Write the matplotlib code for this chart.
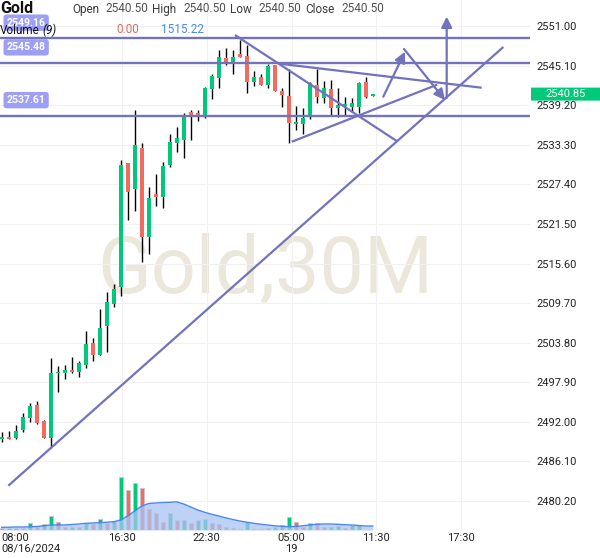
import matplotlib
matplotlib.use('Agg')
import matplotlib.pyplot as plt
import matplotlib.transforms as mtransforms
from matplotlib.patches import FancyBboxPatch
import numpy as np

plt.rcParams['font.family'] = ['Roboto', 'DejaVu Sans']

# 30M candles, 08/16/2024 08:00 -> 08/19 11:30
opens = [2489.49, 2489.79, 2489.60, 2490.79, 2492.62, 2494.51, 2492.13, 2489.64, 2499.24, 2499.33,
         2499.73, 2499.48, 2500.47, 2503.75, 2501.96, 2506.29, 2509.57, 2512.05, 2530.62, 2526.66,
         2532.86, 2519.59, 2525.96, 2525.56, 2530.28, 2533.51, 2534.01, 2538.18, 2537.99, 2537.48,
         2541.61, 2543.29, 2546.18, 2545.44, 2546.78, 2546.52, 2542.69, 2543.44, 2542.20, 2545.18,
         2541.31, 2540.56, 2536.39, 2536.35, 2537.39, 2542.20, 2540.22, 2541.56, 2538.73, 2539.07,
         2538.97, 2538.97, 2542.69, 2540.50]
highs = [2490.45, 2490.68, 2491.49, 2493.28, 2494.86, 2495.11, 2492.28, 2501.47, 2500.37, 2500.47,
         2501.62, 2501.07, 2505.59, 2504.45, 2508.78, 2511.40, 2512.50, 2531.03, 2530.62, 2538.48,
         2533.60, 2526.96, 2528.94, 2530.77, 2534.86, 2535.90, 2537.99, 2538.48, 2538.48, 2541.91,
         2543.80, 2547.42, 2547.67, 2547.37, 2548.91, 2548.16, 2544.29, 2543.80, 2545.29, 2545.18,
         2541.80, 2544.54, 2539.07, 2538.82, 2542.69, 2544.54, 2542.84, 2542.95, 2541.71, 2540.37,
         2540.22, 2542.69, 2543.44, 2540.85]
lows = [2489.05, 2489.49, 2489.49, 2490.44, 2492.02, 2491.68, 2489.60, 2488.15, 2496.40, 2498.34,
        2499.24, 2498.64, 2500.07, 2501.12, 2501.96, 2502.46, 2509.07, 2510.76, 2522.08, 2523.42,
        2515.87, 2516.97, 2524.17, 2523.83, 2530.03, 2532.26, 2531.28, 2534.01, 2536.84, 2537.36,
        2540.07, 2541.80, 2545.18, 2543.80, 2546.42, 2540.97, 2542.10, 2542.20, 2541.80, 2541.31,
        2538.97, 2533.60, 2535.50, 2534.90, 2537.09, 2539.48, 2539.56, 2537.73, 2537.48, 2537.73,
        2538.22, 2537.99, 2540.22, 2540.50]
closes = [2489.79, 2489.49, 2490.64, 2492.72, 2494.36, 2491.79, 2489.64, 2499.28, 2499.48, 2499.73,
          2499.43, 2500.82, 2503.60, 2501.96, 2505.99, 2509.91, 2511.80, 2530.28, 2526.30, 2533.26,
          2519.59, 2525.41, 2525.56, 2530.13, 2533.75, 2534.26, 2537.73, 2537.81, 2537.48, 2541.80,
          2543.54, 2546.38, 2545.44, 2546.38, 2546.42, 2542.69, 2543.35, 2542.20, 2545.08, 2541.31,
          2540.71, 2536.58, 2536.73, 2537.33, 2542.46, 2540.46, 2541.80, 2538.73, 2539.22, 2539.33,
          2539.56, 2542.46, 2540.37, 2540.85]

volumes = [950, 760, 760, 950, 2550, 1140, 2170, 5430, 2930, 1250,
           1030, 1030, 2550, 2280, 4180, 2550, 3530, 20030, 15200, 17970,
           15850, 7870, 6350, 3150, 6350, 3800, 3800, 2770, 3800, 4180,
           2770, 2280, 1250, 650, 380, 3150, 380, 380, 650, 1030,
           1900, 5050, 3150, 1250, 2550, 2550, 1030, 1030, 1520, 760,
           2090, 2090, 190, 0]
vol_dir = 'rgggg rggrr grgrg rggrg rrrrg rgrgg rrrrr grrrg ggrrg rrggr gggg'.replace(' ', '')
vol_ma = [1030, 1060, 1140, 1140, 1220, 1330, 1600, 1900, 1900, 1900,
          2090, 2280, 2550, 2660, 2770, 2960, 3150, 3800, 5320, 7220,
          9120, 10070, 10260, 10450, 10530, 10720, 9880, 8740, 7600, 6730,
          5970, 5320, 4640, 3990, 3420, 2960, 2550, 2200, 1900, 1600,
          1410, 1250, 1330, 1600, 1900, 2170, 2280, 2280, 2170, 2010,
          1900, 1710, 1520, 1515.22]

levels = [2549.16, 2545.48, 2537.61]
last_price = 2540.85

time_ticks = [17.2, 29.3, 41.4, 53.5, 65.6]
time_labels = ['16:30', '22:30', '05:00\n19', '11:30', '17:30']
price_ticks = [2551.0 - 5.9 * k for k in range(13)]

# drawn trend lines: (index, price) end points
trend_lines = [
    [(0.94, 2482.49), (71.66, 2547.87)],
    [(33.33, 2549.65), (56.43, 2533.86)],
    [(39.47, 2545.41), (68.57, 2541.80)],
    [(41.43, 2533.75), (62.2, 2542.25)],
]
arrows = [
    [(54.51, 2540.46), (57.61, 2547.17)],
    [(57.47, 2547.57), (63.33, 2539.97)],
    [(63.57, 2540.27), (63.57, 2552.40)],
]

GREEN = '#00c77a'
RED = '#f26b5f'
DRAW = '#7272bd'

fig = plt.figure(figsize=(6, 5.58), dpi=100)
rect = [0, 28 / 558, 530 / 600, 530 / 558]
ax = fig.add_axes(rect)
ax.set_xlim(-0.243, 75.47)
ax.set_ylim(2475.89, 2554.875)

x = np.arange(len(opens))
o = np.array(opens)
c = np.array(closes)
up = c >= o
cols = [GREEN if u else RED for u in up]

ax.text(0.5, 0.449, 'Gold,30M', transform=ax.transAxes, ha='center', va='baseline',
        fontsize=57, color='#ece7db', zorder=0)

ax.vlines(x, lows, highs, color='black', lw=1, zorder=3)
ax.bar(x, np.maximum(np.abs(c - o), 0.12), bottom=np.minimum(o, c), width=0.62,
       color=cols, zorder=4)

for lvl in levels:
    ax.axhline(lvl, color=DRAW, lw=1.7, zorder=5)
for (x0, y0), (x1, y1) in trend_lines:
    ax.plot([x0, x1], [y0, y1], color=DRAW, lw=1.6, zorder=5, solid_capstyle='butt')
for (x0, y0), (x1, y1) in arrows:
    ax.annotate('', xy=(x1, y1), xytext=(x0, y0),
                arrowprops=dict(arrowstyle='-|>', color=DRAW, lw=1.6, mutation_scale=16,
                                shrinkA=0, shrinkB=0), zorder=5)

for lvl in levels:
    ax.annotate(f'{lvl:.2f}', xy=(0.0126, lvl), xycoords=('axes fraction', 'data'),
                xytext=(0, 11.3), textcoords='offset points', ha='left', va='center',
                fontsize=7.6, fontweight='bold', color='white', zorder=7,
                bbox=dict(boxstyle='round,pad=0.3', fc='#9d9ef5', ec='none'))

ax.yaxis.tick_right()
ax.set_yticks(price_ticks)
ax.set_yticklabels([f'{p:.2f}' for p in price_ticks])
ax.set_xticks(time_ticks)
ax.set_xticklabels(time_labels, linespacing=1.05)
ax.tick_params(length=0, labelsize=8, colors='#222222')
ax.tick_params(axis='y', pad=4.3)
ax.tick_params(axis='x', pad=2.5)
ax.grid(color='#f1f1f1', lw=0.8)
ax.set_axisbelow(True)
for s in ax.spines.values():
    s.set_visible(False)
ax.annotate('08:00\n08/16/2024', xy=(0.002, 0), xycoords='axes fraction', xytext=(0, -2.5),
            textcoords='offset points', ha='left', va='top', fontsize=8, color='#222222',
            linespacing=1.05, annotation_clip=False)

# volume pane overlaid on the bottom of the price pane
axv = fig.add_axes(rect, sharex=ax)
axv.set_ylim(0, 201400)
axv.patch.set_visible(False)
axv.axis('off')
vcols = [GREEN if d == 'g' else RED for d in vol_dir]
axv.bar(x, volumes, width=0.55, color=vcols, edgecolor='#c8c8c8', lw=0.6, zorder=1)
axv.fill_between(x, vol_ma, color='#a9c4f5', alpha=0.75, lw=0, zorder=2)
axv.plot(x, vol_ma, color='#4f86ec', lw=1, zorder=3)

# last price badge
trans = mtransforms.blended_transform_factory(fig.transFigure, ax.transData)
badge = FancyBboxPatch((531 / 600, last_price - 0.97), 69 / 600, 1.94,
                       boxstyle='round,pad=0,rounding_size=0.004', fc='#00c979', ec='none',
                       transform=trans, clip_on=False, zorder=8)
axv.add_patch(badge)
axv.text(566 / 600, last_price, f'{last_price:.2f}', transform=trans, ha='center', va='center',
         fontsize=8, color='white', zorder=9, clip_on=False)

# header
def fy(y):
    return 1 - y / 558

fig.text(0, fy(12.7), 'Gold', fontsize=11.5, fontweight='bold', color='#111111', va='baseline')
for lab, lx, val, vx in [('Open', 72, '2540.50', 105), ('High', 152, '2540.50', 183),
                         ('Low', 230, '2540.50', 258), ('Close', 305, '2540.50', 341)]:
    fig.text(lx / 600, fy(13.3), lab, fontsize=8.5, color='#3a3a3a', va='baseline')
    fig.text(vx / 600, fy(11.7), val, fontsize=8.5, color='#505050', va='baseline')
fig.text(0, fy(34.5), 'Volume', fontsize=8.5, color='#111111', va='baseline', zorder=10)
fig.text(42 / 600, fy(34.5), '(9)', fontsize=8.5, style='italic', color='#111111', va='baseline',
         zorder=10)
fig.text(116 / 600, fy(33.3), '0.00', fontsize=8.5, color='#e06a61', va='baseline')
fig.text(161 / 600, fy(33.3), '1515.22', fontsize=8.5, color='#4a88ee', va='baseline')

fig.savefig('out.png', dpi=100)
